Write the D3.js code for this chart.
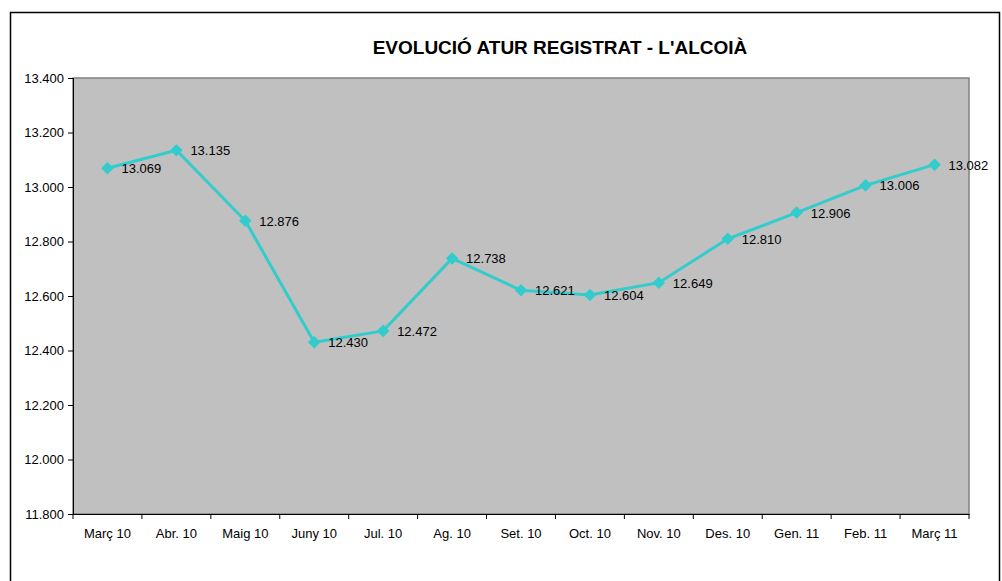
<!DOCTYPE html>
<html lang="ca">
<head>
<meta charset="UTF-8">
<title>Evolució atur registrat - L'Alcoià</title>
<script src="https://d3js.org/d3.v7.min.js"></script>
<style>
  body { margin: 0; background: #fff; }
  svg text { font-family: "Liberation Sans", Arial, sans-serif; fill: #000; }
</style>
</head>
<body>
<svg id="canvas"></svg>
<script>
let months = ['Març 10','Abr. 10','Maig 10','Juny 10','Jul. 10','Ag. 10','Set. 10','Oct. 10','Nov. 10','Des. 10','Gen. 11','Feb. 11','Març 11']
let atur = [13069, 13135, 12876, 12430, 12472, 12738, 12621, 12604, 12649, 12810, 12906, 13006, 13082]
let yTicks = [11800, 12000, 12200, 12400, 12600, 12800, 13000, 13200, 13400]

let width = 1002
let height = 581
let plot = { left: 73, right: 969, top: 78, bottom: 514 }

let svg = d3.select('#canvas').attr('width', width).attr('height', height)

let fmt = d3.formatLocale({ decimal: ',', thousands: '.', grouping: [3], currency: ['', ''] }).format(',d')

// chart border
svg.append('rect')
   .attr('x', 10.5).attr('y', 12.5)
   .attr('width', 989).attr('height', 600)
   .attr('fill', 'none').attr('stroke', '#000').attr('stroke-width', 1.5)

svg.append('text')
   .attr('x', 560).attr('y', 54)
   .attr('text-anchor', 'middle')
   .style('font-size', '19px').style('font-weight', 'bold')
   .text("EVOLUCIÓ ATUR REGISTRAT - L'ALCOIÀ")

let xScale = d3.scaleBand().domain(months).range([plot.left, plot.right])
let yScale = d3.scaleLinear().domain([11800, 13400]).range([plot.bottom, plot.top])

// plot area
svg.append('rect')
   .attr('x', plot.left).attr('y', plot.top)
   .attr('width', plot.right - plot.left).attr('height', plot.bottom - plot.top)
   .attr('fill', '#c0c0c0').attr('stroke', '#808080').attr('stroke-width', 1.5)

// y axis
let yAxis = d3.axisLeft(yScale).tickValues(yTicks).tickFormat(fmt).tickSize(5).tickPadding(4)
let gy = svg.append('g')
   .attr('transform', 'translate(' + plot.left + ',0)')
   .call(yAxis)
gy.selectAll('text').style('font-size', '13px').attr('font-family', null)
gy.selectAll('line, path').attr('stroke', '#000')

// x axis, ticks between categories
let xAxis = d3.axisBottom(xScale).tickSize(0).tickPadding(15)
let gx = svg.append('g')
   .attr('transform', 'translate(0,' + plot.bottom + ')')
   .call(xAxis)
gx.selectAll('text').style('font-size', '13px').attr('font-family', null)
gx.select('.domain').attr('stroke', '#000')
gx.selectAll('.sep')
  .data(months.concat(['end']))
  .enter()
  .append('line')
  .attr('class', 'sep')
  .attr('x1', (d, i) => plot.left + i * xScale.step())
  .attr('x2', (d, i) => plot.left + i * xScale.step())
  .attr('y1', 0).attr('y2', 5)
  .attr('stroke', '#000')

let cx = (d, i) => xScale(months[i]) + xScale.bandwidth() / 2

let line = d3.line().x(cx).y(d => yScale(d))

svg.append('path')
   .datum(atur)
   .attr('d', line)
   .attr('fill', 'none')
   .attr('stroke', '#33cccc')
   .attr('stroke-width', 3)

svg.selectAll('.pt')
   .data(atur)
   .enter()
   .append('path')
   .attr('class', 'pt')
   .attr('d', d3.symbol().type(d3.symbolDiamond2).size(100))
   .attr('transform', (d, i) => 'translate(' + cx(d, i) + ',' + yScale(d) + ')')
   .attr('fill', '#33cccc')

svg.selectAll('.lbl')
   .data(atur)
   .enter()
   .append('text')
   .attr('class', 'lbl')
   .attr('x', (d, i) => cx(d, i) + 14)
   .attr('y', d => yScale(d) + 5)
   .style('font-size', '13px')
   .text(d => fmt(d))
</script>
</body>
</html>
